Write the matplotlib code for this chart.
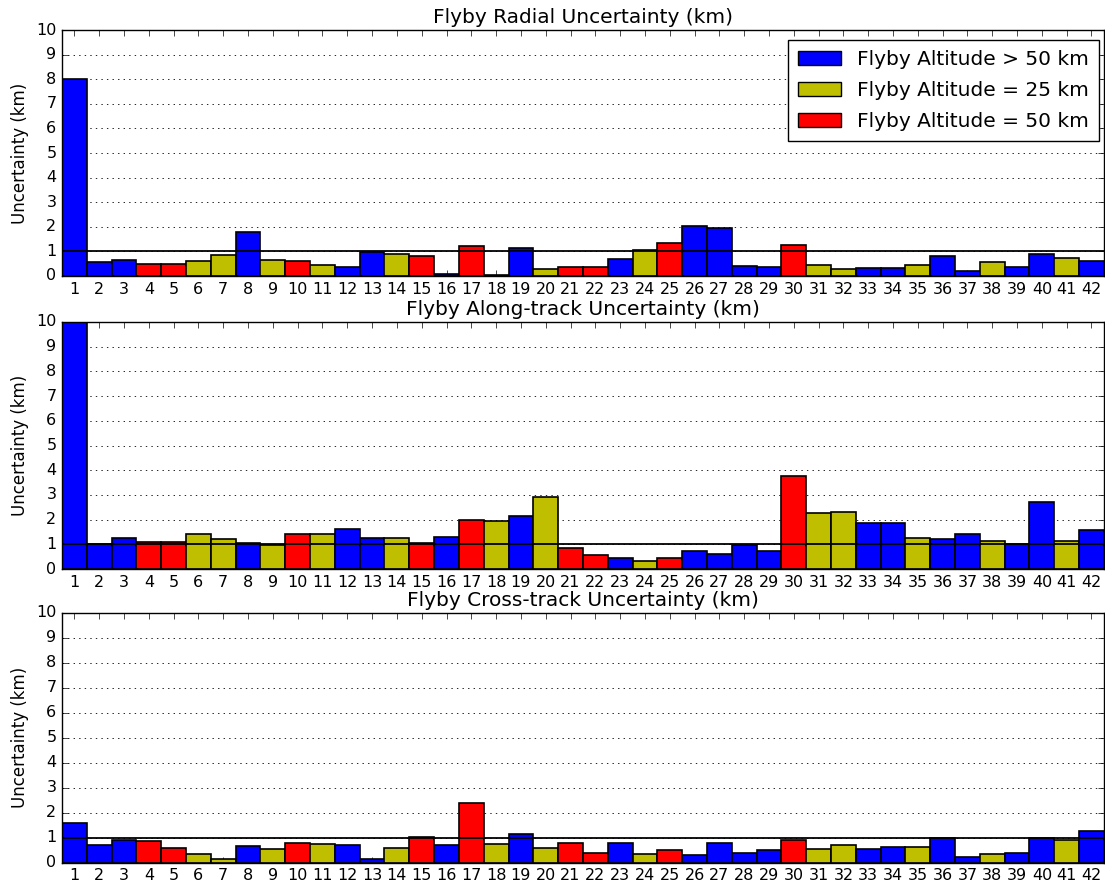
import matplotlib
matplotlib.use("Agg")
import matplotlib.pyplot as plt
from matplotlib.patches import Patch

plt.style.use("classic")

flybys = list(range(1, 43))

# altitude class per flyby: B = > 50 km, Y = 25 km, R = 50 km
classes = ["B", "B", "B", "R", "R", "Y", "Y", "B", "Y", "R",
           "Y", "B", "B", "Y", "R", "B", "R", "Y", "B", "Y",
           "R", "R", "B", "Y", "R", "B", "B", "B", "B", "R",
           "Y", "Y", "B", "B", "Y", "B", "B", "Y", "B", "B",
           "Y", "B"]

radial = [8.0, 0.55, 0.65, 0.49, 0.49, 0.61, 0.84, 1.8, 0.65, 0.6,
          0.45, 0.35, 0.97, 0.9, 0.8, 0.1, 1.2, 0.05, 1.15, 0.27,
          0.35, 0.35, 0.69, 1.04, 1.35, 2.04, 1.95, 0.39, 0.35, 1.26,
          0.45, 0.28, 0.31, 0.31, 0.46, 0.8, 0.22, 0.55, 0.35, 0.89,
          0.74, 0.6]

along_track = [10.0, 1.0, 1.26, 1.1, 1.1, 1.4, 1.2, 1.04, 0.96, 1.4,
               1.4, 1.62, 1.25, 1.25, 1.04, 1.31, 2.0, 1.96, 2.15, 2.9,
               0.85, 0.55, 0.44, 0.33, 0.44, 0.74, 0.59, 0.96, 0.74, 3.77,
               2.25, 2.3, 1.85, 1.85, 1.26, 1.2, 1.4, 1.15, 1.0, 2.7,
               1.15, 1.6]

cross_track = [1.6, 0.7, 0.9, 0.85, 0.6, 0.34, 0.15, 0.65, 0.54, 0.8,
               0.74, 0.7, 0.15, 0.6, 1.04, 0.7, 2.39, 0.74, 1.15, 0.58,
               0.8, 0.38, 0.8, 0.36, 0.5, 0.3, 0.8, 0.38, 0.5, 0.89,
               0.54, 0.69, 0.54, 0.64, 0.64, 0.97, 0.24, 0.34, 0.39, 0.97,
               0.89, 1.28]

class_colors = {"B": "b", "Y": "y", "R": "r"}
class_labels = {"B": "Flyby Altitude > 50 km",
                "Y": "Flyby Altitude = 25 km",
                "R": "Flyby Altitude = 50 km"}

panels = [
    ("Flyby Radial Uncertainty (km)", radial, [0.0561, 0.6892, 0.9429, 0.2770]),
    ("Flyby Along-track Uncertainty (km)", along_track, [0.0561, 0.3592, 0.9429, 0.2782]),
    ("Flyby Cross-track Uncertainty (km)", cross_track, [0.0561, 0.0285, 0.9429, 0.2812]),
]

fig = plt.figure(figsize=(11.05, 8.88), dpi=100, facecolor="white")

for i, (title, values, rect) in enumerate(panels):
    ax = fig.add_axes(rect)
    colors = [class_colors[c] for c in classes]
    ax.bar(flybys, values, width=1.0, align="center", color=colors,
           edgecolor="black", linewidth=1.2, zorder=2)
    ax.axhline(1.0, color="black", linewidth=1.3, zorder=3)
    ax.set_xlim(0.5, 42.5)
    ax.set_ylim(0, 10)
    ax.set_xticks(flybys)
    ax.set_yticks(range(0, 11))
    ax.yaxis.grid(True, linestyle=":", color="black", linewidth=0.6)
    ax.xaxis.grid(False)
    ax.set_axisbelow(True)
    ax.set_title(title, fontsize=14.5)
    ax.set_ylabel("Uncertainty (km)", fontsize=12)
    ax.tick_params(labelsize=11.5)
    if i == 0:
        handles = [Patch(facecolor=class_colors[k], edgecolor="black",
                         label=class_labels[k]) for k in ["B", "Y", "R"]]
        ax.legend(handles=handles, loc="upper right",
                  bbox_to_anchor=(0.9955, 0.96), borderaxespad=0,
                  fontsize=14.5, handlelength=2.15, handleheight=0.75,
                  borderpad=0.5, labelspacing=0.6)

plt.savefig("out.png", dpi=100, facecolor="white")
